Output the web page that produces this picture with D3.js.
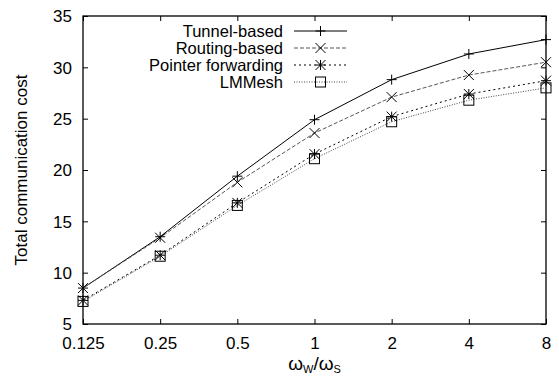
<!DOCTYPE html>
<html><head><meta charset="utf-8">
<script src="https://cdn.jsdelivr.net/npm/d3@7"></script>
<style>body{margin:0;background:#fff}svg{display:block}text{font-family:"Liberation Sans",Arial,sans-serif;fill:#000}</style>
</head><body>
<script>
const xValues = [0.125, 0.25, 0.5, 1, 2, 4, 8];
const xTickLabels = ["0.125", "0.25", "0.5", "1", "2", "4", "8"];
const yTicks = [5, 10, 15, 20, 25, 30, 35];
const seriesNames = ["Tunnel-based", "Routing-based", "Pointer forwarding", "LMMesh"];
const tunnel = [8.5, 13.5, 19.4, 24.9, 28.8, 31.3, 32.7];
const routing = [8.5, 13.4, 18.8, 23.6, 27.1, 29.25, 30.5];
const pointer = [7.3, 11.7, 16.8, 21.55, 25.2, 27.4, 28.7];
const lmmesh = [7.2, 11.6, 16.55, 21.1, 24.7, 26.8, 28.0];
const seriesValues = [tunnel, routing, pointer, lmmesh];
const styles = [
  {stroke:"#000", dash:null, marker:"plus"},
  {stroke:"#555", dash:"4,2", marker:"cross"},
  {stroke:"#000", dash:"2,3", marker:"star"},
  {stroke:"#444", dash:"1,1.5", marker:"box"}
];

const W = 559, H = 377;
const m = {l:83, r:13, t:16, b:53};
const FS = "17px";
const svg = d3.select("body").append("svg").attr("width", W).attr("height", H);
const x = d3.scaleLog().base(2).domain([0.125, 8]).range([m.l, W - m.r]);
const y = d3.scaleLinear().domain([5, 35]).range([H - m.b, m.t]);

const xa = d3.axisBottom(x).tickValues(xValues).tickFormat((d,i)=>xTickLabels[i]).tickSizeInner(-5).tickSizeOuter(0).tickPadding(13);
const xg = svg.append("g").attr("transform",`translate(0,${H-m.b})`).call(xa);
const xt = svg.append("g").attr("transform",`translate(0,${m.t})`).call(d3.axisTop(x).tickValues(xValues).tickFormat("").tickSizeInner(-5).tickSizeOuter(0));
const ya = d3.axisLeft(y).tickValues(yTicks).tickSizeInner(-5).tickSizeOuter(0).tickPadding(11);
const yg = svg.append("g").attr("transform",`translate(${m.l},0)`).call(ya);
const yr = svg.append("g").attr("transform",`translate(${W-m.r},0)`).call(d3.axisRight(y).tickValues(yTicks).tickFormat("").tickSizeInner(-5).tickSizeOuter(0));
[xg,xt,yg,yr].forEach(a=>{a.select(".domain").remove();a.selectAll("line").attr("stroke","#000");a.selectAll("text").attr("font-size",FS).attr("font-family","Liberation Sans, Arial, sans-serif");});
xg.selectAll("text").attr("dy","0.71em");
yg.selectAll("text").attr("dy","0.35em");
svg.append("rect").attr("x",m.l).attr("y",m.t).attr("width",W-m.r-m.l).attr("height",H-m.b-m.t).attr("fill","none").attr("stroke","#000").attr("stroke-width",1.3);

svg.append("text").attr("transform",`translate(27,${(m.t+H-m.b)/2}) rotate(-90)`).attr("text-anchor","middle").attr("font-size",FS).text("Total communication cost");
const xl = svg.append("text").attr("x",x(1)).attr("y",370).attr("text-anchor","middle").attr("font-size","19px").attr("font-family","DejaVu Serif, serif");
xl.append("tspan").text("ω");
xl.append("tspan").attr("dy",3).attr("font-size","11px").attr("font-family","Liberation Sans, Arial").text("W");
xl.append("tspan").attr("dy",-3).text("/ω");
xl.append("tspan").attr("dy",3).attr("font-size","11px").attr("font-family","Liberation Sans, Arial").text("S");

function drawMarker(sel, type, cx, cy, color){
  const s = 5;
  const gg = sel.append("g").attr("stroke",color).attr("stroke-width",1).attr("fill","none");
  if(type==="plus"||type==="star"){
    gg.append("line").attr("x1",cx-s).attr("x2",cx+s).attr("y1",cy).attr("y2",cy);
    gg.append("line").attr("x1",cx).attr("x2",cx).attr("y1",cy-s).attr("y2",cy+s);
  }
  if(type==="cross"||type==="star"){
    gg.append("line").attr("x1",cx-s).attr("x2",cx+s).attr("y1",cy-s).attr("y2",cy+s);
    gg.append("line").attr("x1",cx-s).attr("x2",cx+s).attr("y1",cy+s).attr("y2",cy-s);
  }
  if(type==="box"){
    gg.append("rect").attr("x",cx-5).attr("y",cy-5).attr("width",10).attr("height",10);
  }
}

const line = d3.line().x((d,i)=>x(xValues[i])).y(d=>y(d));
const plot = svg.append("g");
seriesValues.forEach((vals,k)=>{
  const st = styles[k];
  plot.append("path").datum(vals).attr("d",line).attr("fill","none").attr("stroke",st.stroke).attr("stroke-width",1).attr("stroke-dasharray",st.dash);
  vals.forEach((v,i)=>drawMarker(plot, st.marker, x(xValues[i]), y(v), "#000"));
});

const legY = [31, 48, 65, 82];
seriesNames.forEach((n,k)=>{
  const st = styles[k];
  svg.append("text").attr("x",283).attr("y",legY[k]).attr("dy","0.35em").attr("text-anchor","end").attr("font-size","16.5px").text(n);
  svg.append("line").attr("x1",294).attr("x2",347).attr("y1",legY[k]).attr("y2",legY[k]).attr("stroke",st.stroke).attr("stroke-dasharray",st.dash);
  drawMarker(svg, st.marker, 320.5, legY[k], "#000");
});
</script>
</body></html>
